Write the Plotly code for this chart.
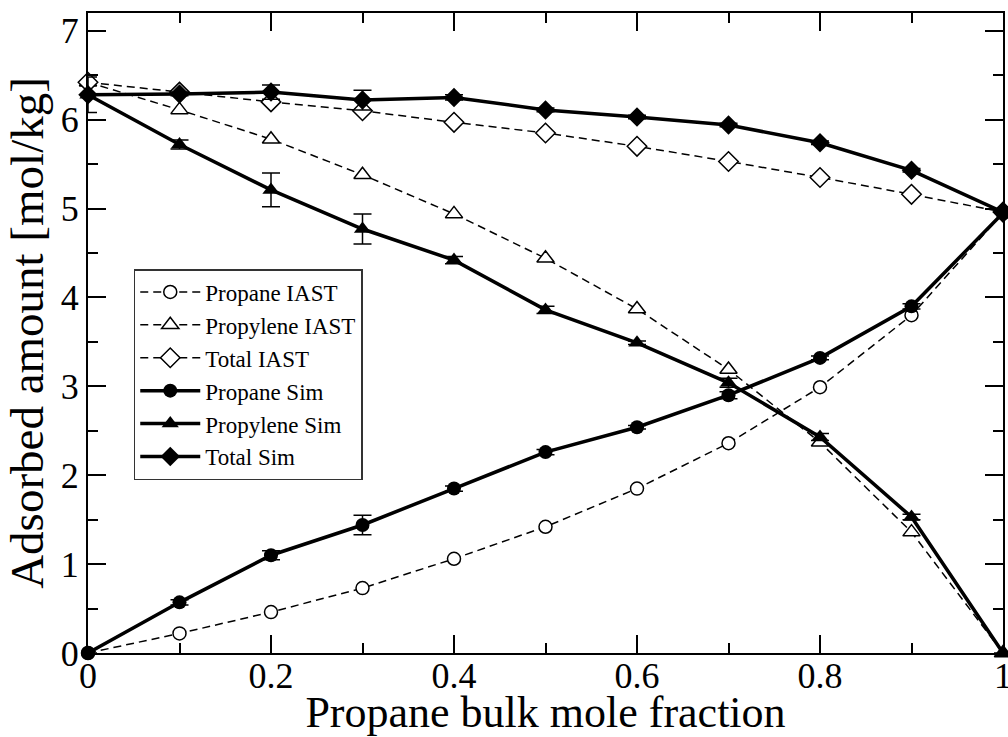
import plotly.graph_objects as go

x = [0.0, 0.1, 0.2, 0.3, 0.4, 0.5, 0.6, 0.7, 0.8, 0.9, 1.0]
propane_iast = [0.0, 0.22, 0.46, 0.73, 1.06, 1.42, 1.85, 2.36, 2.99, 3.80, 4.95]
propylene_iast = [6.42, 6.11, 5.78, 5.38, 4.94, 4.44, 3.87, 3.19, 2.37, 1.36, 0.0]
total_iast = [6.42, 6.31, 6.20, 6.10, 5.97, 5.85, 5.70, 5.53, 5.35, 5.16, 4.96]
propane_sim = [0.0, 0.57, 1.10, 1.44, 1.85, 2.26, 2.54, 2.90, 3.32, 3.90, 4.95]
propane_sim_err = [0.0, 0.03, 0.05, 0.11, 0.03, 0.03, 0.02, 0.04, 0.02, 0.03, 0.0]
propylene_sim = [6.28, 5.72, 5.21, 4.77, 4.42, 3.86, 3.49, 3.04, 2.43, 1.53, 0.0]
propylene_sim_err = [0.2, 0.05, 0.19, 0.17, 0.04, 0.04, 0.02, 0.05, 0.04, 0.03, 0.0]
total_sim = [6.28, 6.29, 6.31, 6.22, 6.25, 6.11, 6.03, 5.94, 5.74, 5.43, 4.96]
total_sim_err = [0.0, 0.02, 0.08, 0.11, 0.03, 0.02, 0.02, 0.02, 0.02, 0.02, 0.0]

FONT = "Liberation Serif"
fig = go.Figure()

def iast(name, y, symbol, size):
    fig.add_trace(go.Scatter(
        x=x, y=y, name=name, mode="lines+markers", cliponaxis=False,
        line=dict(color="black", width=1.5, dash="8px,5px"),
        marker=dict(symbol=symbol, size=size, color="white",
                    line=dict(color="black", width=1.5)),
    ))

def sim(name, y, err, symbol, size):
    fig.add_trace(go.Scatter(
        x=x, y=y, name=name, mode="lines+markers", cliponaxis=False,
        line=dict(color="black", width=3.5),
        marker=dict(symbol=symbol, size=size, color="black"),
        error_y=dict(type="data", array=err, visible=True, color="black",
                     thickness=1.5, width=9),
    ))

iast("Propane IAST", propane_iast, "circle", 13)
iast("Propylene IAST", propylene_iast, "triangle-up", 15)
iast("Total IAST", total_iast, "diamond", 15)
sim("Propane Sim", propane_sim, propane_sim_err, "circle", 14)
sim("Propylene Sim", propylene_sim, propylene_sim_err, "triangle-up", 15)
sim("Total Sim", total_sim, total_sim_err, "diamond", 15)

axis_common = dict(
    showline=True, linecolor="black", linewidth=2, mirror="ticks",
    ticks="inside", ticklen=18, tickwidth=1.5, tickcolor="black",
    showgrid=False, zeroline=False, ticklabeloverflow="allow",
    automargin=False,
    tickfont=dict(family=FONT, size=36, color="black"),
)

fig.update_xaxes(
    range=[0, 1], tickvals=[0, 0.2, 0.4, 0.6, 0.8, 1.0],
    ticktext=["0", "0.2", "0.4", "0.6", "0.8", "1"],
    ticklabelstandoff=-10,
    minor=dict(ticks="inside", ticklen=10, tickwidth=1.5, tickcolor="black",
               tickvals=[0.1, 0.3, 0.5, 0.7, 0.9]),
    title=dict(text="Propane bulk mole fraction", standoff=6,
               font=dict(family=FONT, size=44, color="black")),
    **axis_common,
)
fig.update_yaxes(
    range=[0, 7.2], tickvals=[0, 1, 2, 3, 4, 5, 6, 7],
    minor=dict(ticks="inside", ticklen=10, tickwidth=1.5, tickcolor="black",
               tickvals=[0.5, 1.5, 2.5, 3.5, 4.5, 5.5, 6.5]),
    title=dict(text="Adsorbed amount [mol/kg]", standoff=2,
               font=dict(family=FONT, size=47, color="black")),
    **axis_common,
)

fig.update_layout(
    width=1008, height=737,
    margin=dict(l=88, r=5, t=13, b=84),
    paper_bgcolor="white", plot_bgcolor="white",
    font=dict(family=FONT, color="black"),
    showlegend=True,
    legend=dict(
        x=0.05, y=0.60, xanchor="left", yanchor="top",
        bgcolor="white", bordercolor="#333", borderwidth=1.5,
        font=dict(family=FONT, size=23, color="black"),
        tracegroupgap=0, itemwidth=60,
    ),
)

fig.write_html("out.html")
